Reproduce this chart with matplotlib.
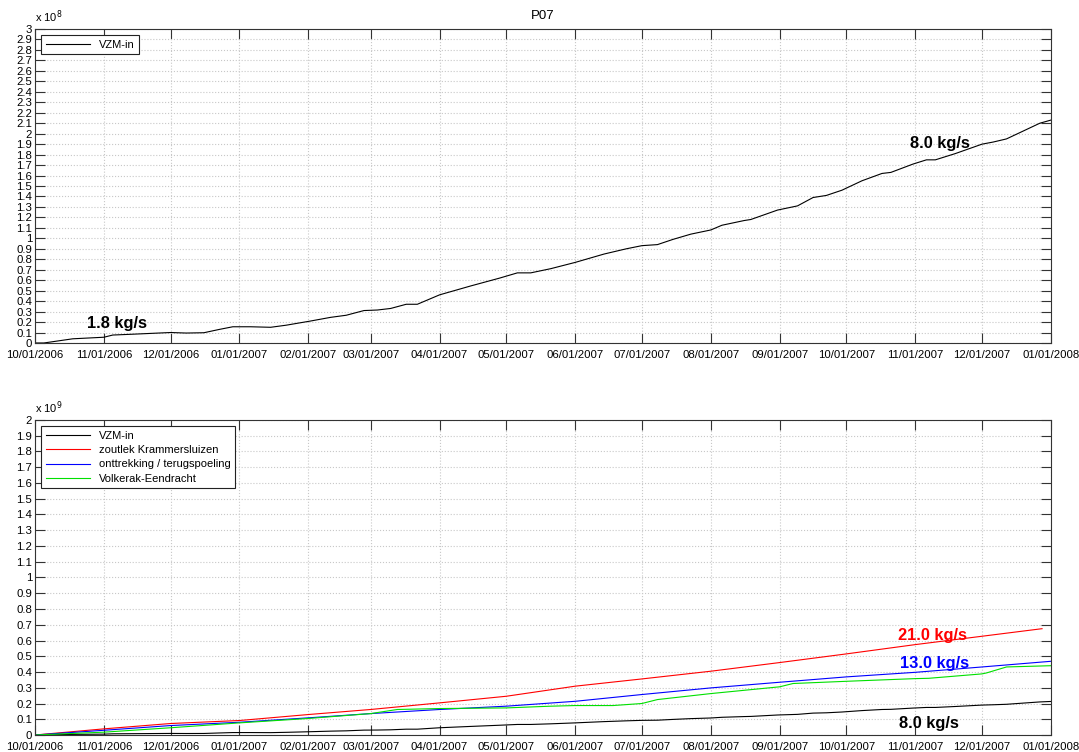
import numpy as np
import pandas as pd
import matplotlib
matplotlib.use("Agg")
import matplotlib.pyplot as plt
import matplotlib.dates as mdates

plt.rcParams['font.family'] = ['Liberation Sans', 'DejaVu Sans']

START = pd.Timestamp("2006-10-01")
END = pd.Timestamp("2008-01-01")

# Cumulative load VZM-in (days since 2006-10-01, value in 10^8 kg)
vzm_days = [0, 4, 17, 31, 35, 43, 61, 68, 76, 83, 89, 97, 106, 113, 124, 133, 140,
            148, 154, 160, 167, 172, 182, 196, 209, 217, 223, 232, 243, 256, 266,
            273, 280, 287, 295, 304, 309, 319, 322, 334, 343, 350, 356, 363, 372,
            381, 385, 395, 401, 405, 414, 426, 431, 437, 444, 452, 457]
vzm_in = [0, 0, 0.04, 0.055, 0.076, 0.083, 0.10, 0.095, 0.098, 0.13, 0.155, 0.155,
          0.15, 0.17, 0.21, 0.245, 0.265, 0.31, 0.315, 0.33, 0.37, 0.37, 0.46,
          0.545, 0.62, 0.67, 0.67, 0.71, 0.77, 0.85, 0.90, 0.93, 0.94, 0.99, 1.04,
          1.08, 1.125, 1.17, 1.18, 1.27, 1.31, 1.39, 1.41, 1.46, 1.55, 1.62, 1.63,
          1.71, 1.75, 1.75, 1.81, 1.90, 1.92, 1.95, 2.02, 2.10, 2.13]

# Zoutlek Krammersluizen (10^9 kg)
kram_days = [0, 31, 61, 92, 123, 151, 182, 212, 243, 273, 304, 335, 365, 396, 426, 453]
kram = [0, 0.039, 0.073, 0.092, 0.13, 0.162, 0.204, 0.246, 0.31, 0.356, 0.405,
        0.46, 0.515, 0.574, 0.627, 0.675]

# Onttrekking / terugspoeling (10^9 kg)
ont_days = [0, 31, 61, 92, 123, 151, 182, 212, 243, 273, 304, 335, 365, 396, 426, 457]
ont = [0, 0.030, 0.060, 0.081, 0.109, 0.136, 0.162, 0.183, 0.214, 0.257, 0.299,
       0.335, 0.369, 0.398, 0.432, 0.468]

# Volkerak-Eendracht (10^9 kg)
ve_days = [0, 31, 61, 92, 123, 151, 163, 182, 212, 232, 243, 260, 273, 280, 304,
           335, 341, 365, 396, 402, 426, 428, 437, 457]
vozk = [0, 0.018, 0.046, 0.077, 0.105, 0.136, 0.162, 0.168, 0.172, 0.183, 0.187,
        0.187, 0.20, 0.225, 0.263, 0.306, 0.327, 0.341, 0.358, 0.36, 0.388, 0.394,
        0.432, 0.44]

legend_top = ["VZM-in"]
legend_bottom = ["VZM-in", "zoutlek Krammersluizen", "onttrekking / terugspoeling",
                 "Volkerak-Eendracht"]


def to_dates(days):
    return START + pd.to_timedelta(np.asarray(days), unit="D")


TICK_FS = 8.2
NOTE_FS = 11.8


def style_axes(ax, ymax):
    ax.set_xlim(START, END)
    ax.set_ylim(0, ymax)
    ax.xaxis.set_major_locator(mdates.MonthLocator())
    ax.xaxis.set_major_formatter(mdates.DateFormatter("%m/%d/%Y"))
    ticks = np.round(np.arange(0, ymax + 1e-9, 0.1), 1)
    ax.set_yticks(ticks)
    ax.set_yticklabels(["%g" % t for t in ticks])
    ax.tick_params(direction="in", length=7, width=0.8, color="#333333",
                   labelsize=TICK_FS, top=True, right=True)
    ax.tick_params(axis="y", pad=2)
    ax.tick_params(axis="x", pad=5)
    ax.grid(True, linestyle=":", color="#c8c8c8", linewidth=0.8)
    for s in ax.spines.values():
        s.set_color("#333333")
        s.set_linewidth(0.8)


def add_legend(ax):
    leg = ax.legend(loc="upper left", fontsize=8, fancybox=False, edgecolor="#222222",
                    handlelength=4, borderaxespad=0.55, labelspacing=0.4,
                    framealpha=1)
    leg.get_frame().set_linewidth(0.8)


fig = plt.figure(figsize=(10.79, 7.52), dpi=100)

# Upper panel
ax1 = fig.add_axes([0.0324, 0.5439, 0.9416, 0.4175])
ax1.plot(to_dates(vzm_days), vzm_in, color="black", lw=0.8, label=legend_top[0])
style_axes(ax1, 3.0)
ax1.set_title("P07", fontsize=9.5, pad=7)
ax1.text(0.0, 1.012, r"x 10$^{8}$", transform=ax1.transAxes, fontsize=8,
         ha="left", va="bottom")
ax1.text(START + pd.Timedelta(days=37), 0.115, "1.8 kg/s", fontsize=NOTE_FS,
         fontweight="bold", ha="center", va="bottom")
ax1.text(START + pd.Timedelta(days=407), 1.83, "8.0 kg/s", fontsize=NOTE_FS,
         fontweight="bold", ha="center", va="bottom")
add_legend(ax1)

# Lower panel
ax2 = fig.add_axes([0.0324, 0.0226, 0.9416, 0.4189])
ax2.plot(to_dates(vzm_days), np.asarray(vzm_in) / 10.0, color="black", lw=0.8,
         label=legend_bottom[0])
ax2.plot(to_dates(kram_days), kram, color="red", lw=0.8, label=legend_bottom[1])
ax2.plot(to_dates(ont_days), ont, color="blue", lw=0.8, label=legend_bottom[2])
ax2.plot(to_dates(ve_days), vozk, color="#00e000", lw=0.8, label=legend_bottom[3])
style_axes(ax2, 2.0)
ax2.text(0.0, 1.012, r"x 10$^{9}$", transform=ax2.transAxes, fontsize=8,
         ha="left", va="bottom")
ax2.text(START + pd.Timedelta(days=403.5), 0.583, "21.0 kg/s", fontsize=NOTE_FS,
         fontweight="bold", color="red", ha="center", va="bottom")
ax2.text(START + pd.Timedelta(days=404.5), 0.405, "13.0 kg/s", fontsize=NOTE_FS,
         fontweight="bold", color="blue", ha="center", va="bottom")
ax2.text(START + pd.Timedelta(days=402), 0.027, "8.0 kg/s", fontsize=NOTE_FS,
         fontweight="bold", color="black", ha="center", va="bottom")
add_legend(ax2)

fig.savefig("out.png", dpi=100)
